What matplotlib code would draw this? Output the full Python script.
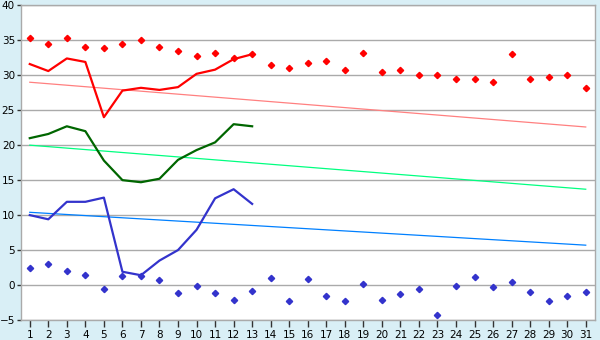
import matplotlib
matplotlib.use("Agg")
import matplotlib.pyplot as plt
import numpy as np

days = list(range(1, 32))

red_points = [35.3, 34.5, 35.3, 34.1, 33.9, 34.5, 35.0, 34.1, 33.4, 32.7,
              33.2, 32.4, 33.0, 31.4, 31.0, 31.8, 32.0, 30.7, 33.2, 30.4,
              30.7, 30.0, 30.1, 29.5, 29.4, 29.1, 33.1, 29.4, 29.7, 30.0, 28.2]
red_line_days = list(range(1, 14))
red_line = [31.6, 30.6, 32.4, 31.9, 24.0, 27.8, 28.2, 27.9, 28.3, 30.2, 30.8, 32.3, 33.0]
red_trend = [29.0, 22.6]

green_line = [21.0, 21.6, 22.7, 22.0, 17.8, 15.0, 14.7, 15.2, 17.9, 19.3, 20.4, 23.0, 22.7]
green_trend = [20.0, 13.7]

blue_line = [10.0, 9.4, 11.9, 11.9, 12.5, 1.9, 1.4, 3.5, 5.0, 7.9, 12.4, 13.7, 11.6]
blue_trend = [10.4, 5.7]
blue_points = [2.5, 3.0, 2.0, 1.4, -0.6, 1.3, 1.3, 0.7, -1.2, -0.2,
               -1.2, -2.2, -0.9, 1.0, -2.3, 0.8, -1.5, -2.3, 0.1, -2.2,
               -1.3, -0.6, -4.3, -0.2, 1.2, -0.3, 0.4, -1.0, -2.3, -1.6, -1.0]

yticks = list(range(-5, 41, 5))

fig = plt.figure(figsize=(6, 3.4), dpi=100, facecolor="#d9eff6")
ax = fig.add_axes([20.5/600, 20/340, 574.5/600, 314.7/340])
ax.set_facecolor("white")

trend_x = [days[0], days[-1]]
ax.plot(trend_x, red_trend, color="#ff8080", lw=0.9, zorder=2)
ax.plot(trend_x, green_trend, color="#00ff80", lw=0.9, zorder=2)
ax.plot(trend_x, blue_trend, color="#0080ff", lw=0.9, zorder=2)

ax.plot(red_line_days, red_line, color="#ff0000", lw=1.6, zorder=3)
ax.plot(red_line_days, green_line, color="#006600", lw=1.6, zorder=3)
ax.plot(red_line_days, blue_line, color="#3333cc", lw=1.6, zorder=3)

ax.plot(days, red_points, ls="none", marker="D", ms=3.2, color="#ff0000", zorder=4)
ax.plot(days, blue_points, ls="none", marker="D", ms=3.2, color="#3333cc", zorder=4)

ax.set_xlim(0.5, 31.5)
ax.set_ylim(-5, 40)
ax.set_xticks(days)
ax.set_yticks(yticks)
ax.yaxis.grid(True, color="#aaaaaa", lw=1)
ax.set_axisbelow(True)
for s in ax.spines.values():
    s.set_color("#aaaaaa")
    s.set_linewidth(1)
ax.tick_params(axis="both", direction="out", width=1, color="#333333",
               labelsize=7.5)
ax.tick_params(axis="y", length=3, pad=1)
ax.tick_params(axis="x", length=5, pad=2)

fig.savefig("out.png", dpi=100, facecolor=fig.get_facecolor())
